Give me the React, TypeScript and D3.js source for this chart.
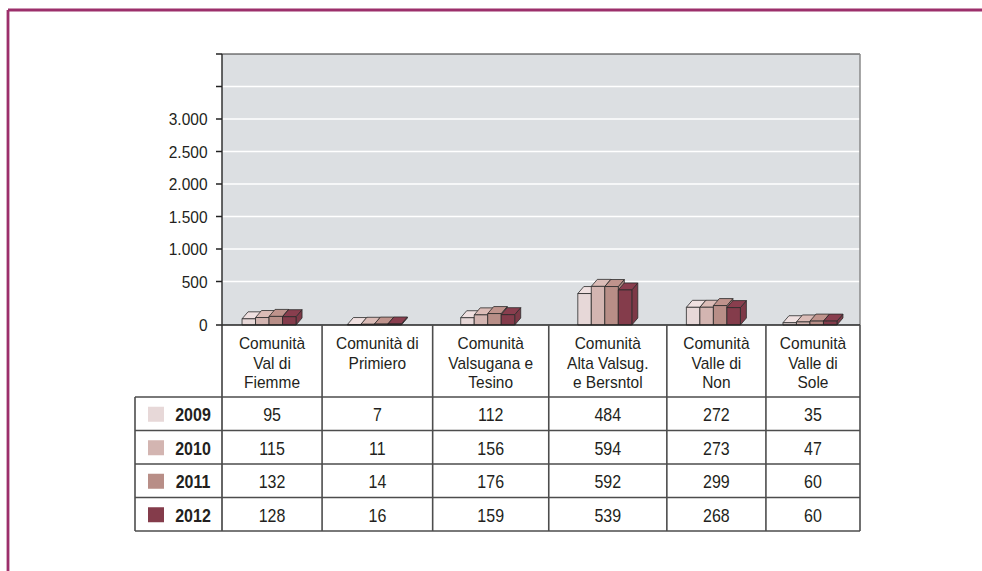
import React from "react";
import * as d3 from "d3";

const categories = [
  "Comunità\nVal di\nFiemme",
  "Comunità di\nPrimiero",
  "Comunità\nValsugana e\nTesino",
  "Comunità\nAlta Valsug.\ne Bersntol",
  "Comunità\nValle di\nNon",
  "Comunità\nValle di\nSole",
];
const years = ["2009", "2010", "2011", "2012"];
const values2009 = [95, 7, 112, 484, 272, 35];
const values2010 = [115, 11, 156, 594, 273, 47];
const values2011 = [132, 14, 176, 592, 299, 60];
const values2012 = [128, 16, 159, 539, 268, 60];
const series = [values2009, values2010, values2011, values2012];
const yTickValues = [0, 500, 1000, 1500, 2000, 2500, 3000];
const yExtraTicks = [3500, 4000];
const colors = ["#e7d8d8", "#d3b5b1", "#b88e87", "#843c4b"];

// layout (relative column widths of the data table)
const COL_WEIGHTS = [100, 110.5, 116, 118, 99, 94];

const W = 982;
const H = 571;
const plotLeft = 222;
const plotRight = 860;
const plotTop = 54;
const floorY = 325;
const backZeroY = 314;
const headerBottom = 397;
const rowH = 33.5;
const legendLeft = 135;
const font = "'Liberation Sans', Arial, Helvetica, sans-serif";
const textColor = "#231f20";
const lineColor = "#4d4d4d";

const fmt = d3.formatLocale({ decimal: ",", thousands: ".", grouping: [3], currency: ["", "€"] }).format(",d");

function T(props: {
  x: number;
  y: number;
  size: number;
  anchor?: string;
  bold?: boolean;
  sy?: number;
  children: React.ReactNode;
}) {
  const sy = props.sy ?? 1.12;
  return (
    <text
      transform={`translate(${props.x},${props.y}) scale(1,${sy})`}
      textAnchor={props.anchor ?? "middle"}
      fontSize={props.size}
      fontWeight={props.bold ? "bold" : "normal"}
      fill={textColor}
      dy="0.36em"
    >
      {props.children}
    </text>
  );
}

export default function App() {
  const y = d3.scaleLinear().domain([0, 4000]).range([backZeroY, plotTop]);
  const k = y(0) - y(1);
  const cum = [0, ...d3.cumsum(COL_WEIGHTS)];
  const xEdge = d3.scaleLinear().domain([0, cum[cum.length - 1]]).range([plotLeft, plotRight]);
  const edges = cum.map((c) => xEdge(c));
  const centers = categories.map((_, i) => (edges[i] + edges[i + 1]) / 2);

  const barW = 13.5;
  const dx = 6;
  const dy = 7;
  const groupW = barW * years.length + dx;

  const rowsTop = (r: number) => headerBottom + r * rowH;
  const tableBottom = rowsTop(years.length);

  return (
    <svg width={W} height={H} style={{ position: "absolute", left: 0, top: 0, background: "#fff" }} fontFamily={font}>
      {/* frame */}
      <line x1={8} y1={10} x2={W} y2={10} stroke="#9c2f6b" strokeWidth={2.8} />
      <line x1={8} y1={10} x2={8} y2={H} stroke="#9c2f6b" strokeWidth={2.8} />

      {/* plot background */}
      <rect x={plotLeft} y={plotTop} width={plotRight - plotLeft} height={floorY - plotTop} fill="#dcdfe2" />
      {/* gridlines */}
      {[...yTickValues.slice(1), ...yExtraTicks.slice(0, 1)].map((v) => (
        <line key={v} x1={plotLeft} x2={plotRight} y1={y(v)} y2={y(v)} stroke="#ffffff" strokeWidth={1.6} />
      ))}
      <line x1={plotLeft} x2={plotRight} y1={plotTop} y2={plotTop} stroke="#333" strokeWidth={1.2} />
      <line x1={plotRight} x2={plotRight} y1={plotTop} y2={floorY} stroke="#8a8a8a" strokeWidth={1.5} />

      {/* bars */}
      {categories.map((c, ci) => {
        const x0 = centers[ci] - groupW / 2;
        return (
          <g key={c}>
            {series.map((vals, si) => {
              const h = vals[ci] * k;
              const xl = x0 + si * barW;
              const xr = xl + barW;
              const yt = floorY - h;
              const col = colors[si];
              const top = d3.color(col)!.brighter(0.1).formatHex();
              const side = d3.color(col)!.darker(0.15).formatHex();
              return (
                <g key={si} stroke="#2b2b2b" strokeWidth={0.8} strokeLinejoin="round">
                  <path d={`M${xr},${floorY}L${xr + dx},${floorY - dy}L${xr + dx},${yt - dy}L${xr},${yt}Z`} fill={side} />
                  <path d={`M${xl},${yt}L${xl + dx},${yt - dy}L${xr + dx},${yt - dy}L${xr},${yt}Z`} fill={top} />
                  <rect x={xl} y={yt} width={barW} height={h} fill={col} />
                </g>
              );
            })}
          </g>
        );
      })}

      {/* floor line */}
      <line x1={plotLeft - 6} x2={plotRight} y1={floorY} y2={floorY} stroke="#222" strokeWidth={1.5} />

      {/* y axis */}
      <line x1={plotLeft} x2={plotLeft} y1={plotTop} y2={tableBottom} stroke="#333" strokeWidth={1.5} />
      {[...yTickValues.slice(1), ...yExtraTicks].map((v) => (
        <line key={v} x1={plotLeft - 6} x2={plotLeft} y1={y(v)} y2={y(v)} stroke="#222" strokeWidth={1.5} />
      ))}
      {yTickValues.map((v) => (
        <T key={v} x={207.5} y={v === 0 ? floorY : y(v)} size={15.5} anchor="end">
          {fmt(v)}
        </T>
      ))}

      {/* table */}
      {edges.slice(1).map((e, i) => (
        <line key={i} x1={e} x2={e} y1={floorY} y2={tableBottom} stroke={lineColor} strokeWidth={1.6} />
      ))}
      <line x1={legendLeft} x2={legendLeft} y1={headerBottom} y2={tableBottom} stroke={lineColor} strokeWidth={1.6} />
      {d3.range(years.length + 1).map((r) => (
        <line key={r} x1={legendLeft} x2={plotRight} y1={rowsTop(r)} y2={rowsTop(r)} stroke={lineColor} strokeWidth={1.6} />
      ))}

      {/* header labels */}
      {categories.map((c, ci) =>
        c.split("\n").map((ln, li) => (
          <T key={c + li} x={centers[ci]} y={343 + li * 19.5} size={15.5}>
            {ln}
          </T>
        ))
      )}

      {/* rows */}
      {years.map((yr, r) => {
        const cy = rowsTop(r) + rowH / 2 + 1;
        return (
          <g key={yr}>
            <rect x={148} y={cy - 8} width={16} height={15} fill={colors[r]} />
            <T x={193} y={cy} size={16} bold sy={1.15}>
              {yr}
            </T>
            {series[r].map((v, ci) => (
              <T key={ci} x={centers[ci]} y={cy} size={16} sy={1.15}>
                {fmt(v)}
              </T>
            ))}
          </g>
        );
      })}
    </svg>
  );
}
